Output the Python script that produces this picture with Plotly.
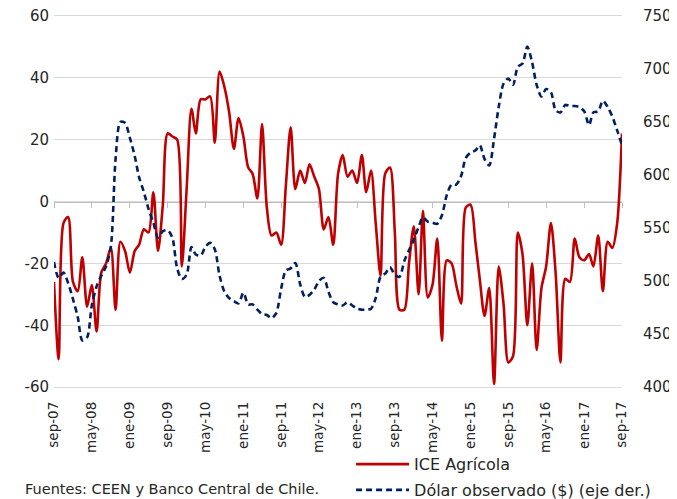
import pandas as pd
import plotly.graph_objects as go

# ICE Agrícola (left axis), monthly sep-07 .. sep-17
ice_agricola = [
    -26, -51, -7, -5, -26, -29, -18, -34, -27, -42,
    -23, -20, -15, -35, -13, -16, -23, -16, -14, -9,
    -10, 3, -16, -1, 22, 21, 20, -21, 4, 30,
    22, 33, 33, 34, 19, 42, 37, 29, 17, 27,
    21, 11, 9, 1, 25, -2, -11, -10, -14, 5,
    24, 4, 10, 6, 12, 8, 4, -9, -5, -14,
    9, 15, 8, 10, 6, 15, 3, 10, -7, -24,
    9, 11, -10, -35, -35, -20, -8, -30, -3, -31,
    -27, -12, -45, -19, -20, -27, -33, -2, -1, -13,
    -25, -37, -28, -59, -21, -33, -52, -50, -10, -17,
    -40, -20, -48, -28, -21, -7, -23, -52, -25, -26,
    -12, -18, -19, -17, -21, -11, -29, -13, -15, -7,
    22,
]

# Dólar observado (right axis), monthly sep-07 .. sep-17
dolar_observado = [
    518, 503, 508, 498, 483, 466, 444, 447, 477, 495,
    505, 514, 533, 615, 650, 649, 635, 618, 598, 584,
    568, 555, 541, 547, 548, 541, 512, 502, 506, 532,
    525, 524, 532, 536, 530, 505, 490, 484, 481, 479,
    489, 478, 478, 473, 469, 468, 465, 470, 493, 510,
    512, 517, 497, 485, 487, 492, 500, 503, 490, 480,
    478, 477, 480, 477, 474, 473, 473, 474, 484, 504,
    507, 513, 506, 504, 519, 529, 539, 551, 560, 556,
    555, 554, 562, 581, 591, 591, 599, 616, 621, 623,
    628, 615, 609, 634, 664, 686, 691, 685, 702, 705,
    721, 706, 685, 674, 681, 678, 661, 659, 666, 665,
    665, 664, 660, 647, 659, 660, 670, 664, 655, 642,
    628,
]

x_tick_labels = ["sep-07", "may-08", "ene-09", "sep-09", "may-10", "ene-11",
                 "sep-11", "may-12", "ene-13", "sep-13", "may-14", "ene-15",
                 "sep-15", "may-16", "ene-17", "sep-17"]
left_ticks = [60, 40, 20, 0, -20, -40, -60]
left_tick_text = ["60", "40", "20", "0", "-20", "-40", "-60"]
right_ticks = [750, 700, 650, 600, 550, 500, 450, 400]

months = pd.date_range("2007-09-01", periods=len(ice_agricola), freq="MS")
tick_dates = list(months[::8])

FONT = "DejaVu Sans"
TXT = "#262626"
GRID = "#D9D9D9"

fig = go.Figure()
fig.add_trace(go.Scatter(
    x=months, y=ice_agricola, name="ICE Agrícola", mode="lines",
    legendgroup="a",
    line=dict(color="#C00000", width=2.6, shape="spline", smoothing=0.8),
    xaxis="x", yaxis="y",
))
fig.add_trace(go.Scatter(
    x=months, y=dolar_observado, name="Dólar observado ($) (eje der.)", mode="lines",
    legendgroup="b",
    line=dict(color="#002060", width=2.6, dash="6px,4px", shape="spline", smoothing=0.8),
    xaxis="x2", yaxis="y2",
))

# the page body adds an 8px offset, so the figure is 8px smaller on each side;
# y ranges are padded slightly so the outer grid lines (60 / -60) are drawn
fig.update_layout(
    width=669, height=491,
    margin=dict(l=46, r=55, t=6.15, b=110.15, autoexpand=False),
    paper_bgcolor="white", plot_bgcolor="white",
    font=dict(family=FONT, color=TXT),
    showlegend=True,
    legend=dict(
        x=0.523, xanchor="left", y=-0.1552, yanchor="top",
        font=dict(family=FONT, size=16, color=TXT),
        bgcolor="rgba(0,0,0,0)", borderwidth=0,
        traceorder="grouped", tracegroupgap=2, itemwidth=53,
    ),
    xaxis=dict(
        range=[months[0], months[-1]], automargin=False,
        tickmode="array", tickvals=tick_dates, ticktext=x_tick_labels,
        tickangle=-90, tickfont=dict(family=FONT, size=13.5, color=TXT),
        showgrid=False, zeroline=False, showline=False,
        ticks="", ticklabelstandoff=9, ticklabeloverflow="allow",
    ),
    xaxis2=dict(
        range=[months[0], months[-1]], overlaying="x", anchor="free", position=0.5,
        automargin=False,
        tickmode="array", tickvals=tick_dates, showticklabels=False,
        showgrid=False, zeroline=False, showline=True, linecolor="#BFBFBF", linewidth=1,
        ticks="outside", ticklen=5, tickcolor="#BFBFBF", tickwidth=1,
        layer="below traces",
    ),
    yaxis=dict(
        range=[-60.6, 60.6], automargin=False,
        tickmode="array", tickvals=left_ticks, ticktext=left_tick_text,
        tickfont=dict(family=FONT, size=15, color=TXT),
        showgrid=True, gridcolor=GRID, gridwidth=1, zeroline=False, showline=False,
        ticks="", ticklabelstandoff=4, ticklabeloverflow="allow",
    ),
    yaxis2=dict(
        range=[398.25, 751.75], overlaying="y", side="right", anchor="x", automargin=False,
        tickmode="array", tickvals=right_ticks,
        tickfont=dict(family=FONT, size=15, color=TXT),
        showgrid=False, zeroline=False, showline=False,
        ticks="", ticklabelstandoff=20, ticklabeloverflow="allow",
    ),
)

fig.add_annotation(
    text="Fuentes: CEEN y Banco Central de Chile.",
    xref="paper", yref="paper", x=-0.0546, y=-0.2673,
    xanchor="left", yanchor="middle", showarrow=False,
    font=dict(family=FONT, size=14.5, color=TXT),
)

fig.write_html("out.html")
